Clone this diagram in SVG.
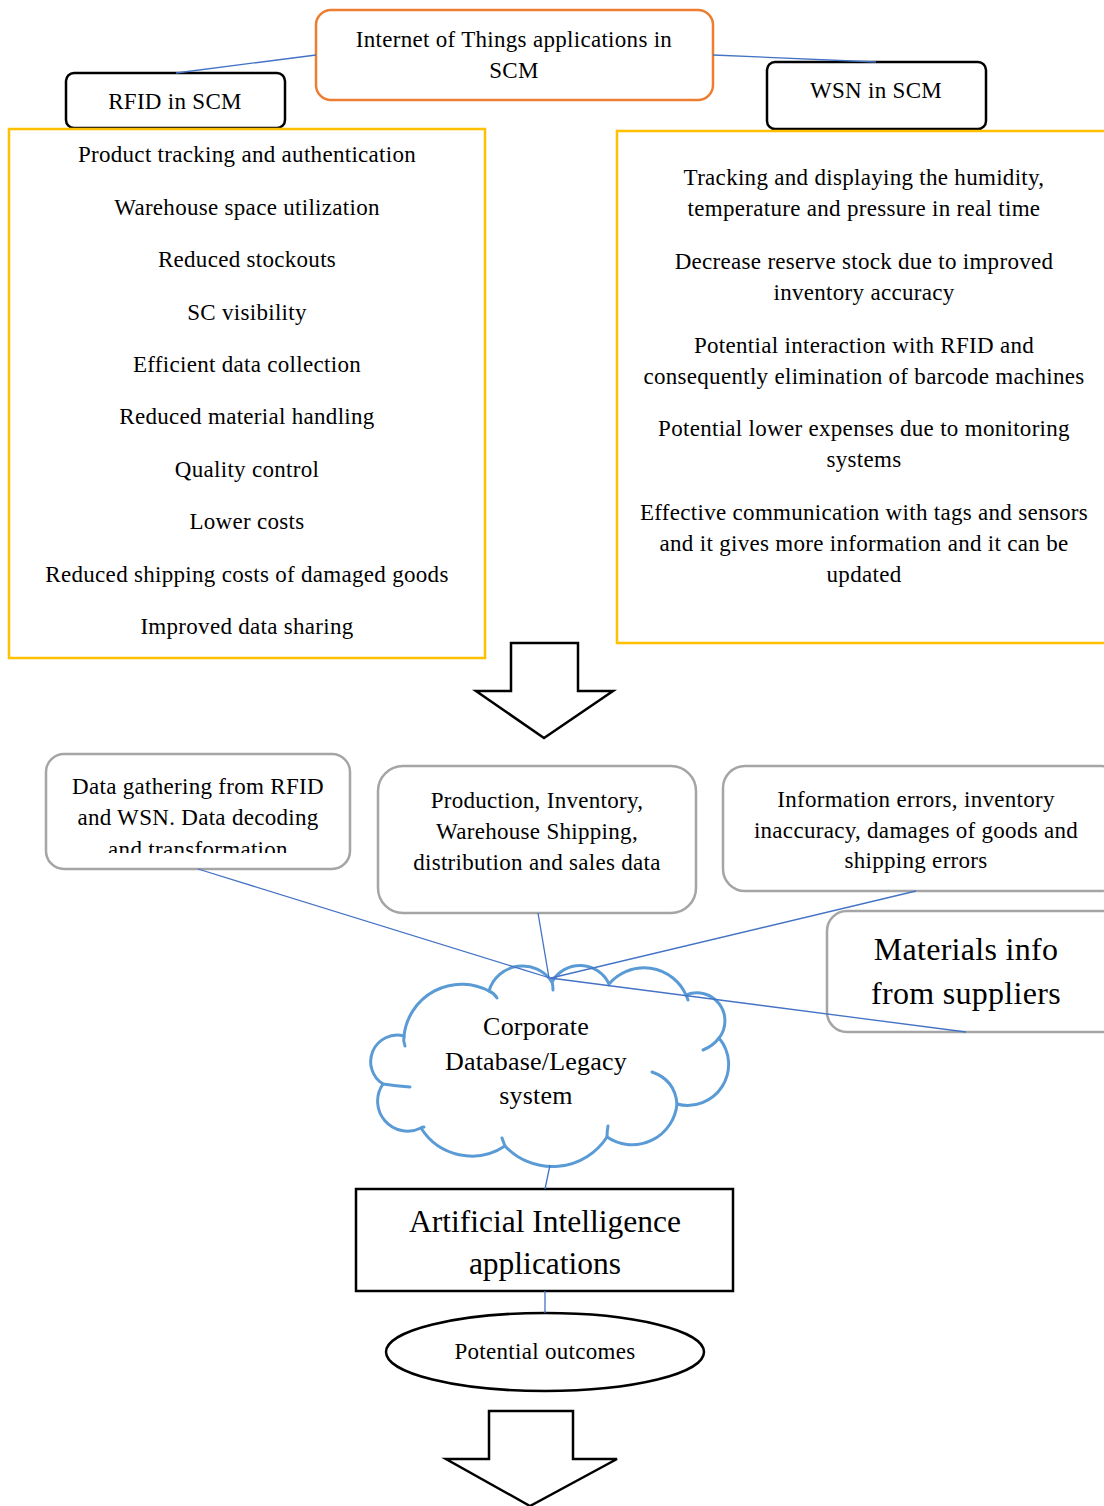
<svg xmlns="http://www.w3.org/2000/svg" width="1104" height="1506" viewBox="0 0 1104 1506">
  <style>
    text { font-family: "Liberation Serif", "Times New Roman", serif; fill: #000; text-anchor: middle; }
    .t20 { font-size: 23px; letter-spacing: 0.3px; }
    .t21 { font-size: 23px; letter-spacing: 0.3px; }
    .t24 { font-size: 26px; letter-spacing: 0.2px; }
    .t30 { font-size: 31.5px; }
    .t32 { font-size: 32px; letter-spacing: 0.3px; }
    .orange { fill: #fff; stroke: #ED7D31; stroke-width: 2.5; }
    .black { fill: #fff; stroke: #000; stroke-width: 2.5; }
    .yellow { fill: #fff; stroke: #FFC000; stroke-width: 2.5; }
    .grey { fill: #fff; stroke: #A5A5A5; stroke-width: 2.5; }
    .cloud { fill: none; stroke: #5B9BD5; stroke-width: 3; stroke-linecap: round; }
    .link { stroke: #4472C4; stroke-width: 1.3; fill: none; }
    .blockarrow { fill: #fff; stroke: #000; stroke-width: 2.5; stroke-linejoin: miter; }
  </style>
  <defs>
    <clipPath id="clip-gather">
      <rect x="46" y="754" width="304" height="99"/>
    </clipPath>
  </defs>

  <rect width="1104" height="1506" fill="#fff"/>

  <!-- top: IoT root and its two branches -->
  <g id="iot">
    <rect class="orange" x="316" y="10" width="397" height="90" rx="15"/>
    <text class="t20" x="514" y="47">Internet of Things applications in</text>
    <text class="t20" x="514" y="78">SCM</text>
  </g>
  <g id="rfid">
    <rect class="black" x="66" y="73" width="219" height="55" rx="8"/>
    <text class="t20" x="175" y="109">RFID in SCM</text>
  </g>
  <g id="wsn">
    <rect class="black" x="767" y="62" width="219" height="67" rx="8"/>
    <text class="t20" x="876" y="98">WSN in SCM</text>
  </g>

  <!-- benefit lists -->
  <g id="rfid-benefits">
    <rect class="yellow" x="9" y="129" width="476" height="529"/>
    <text class="t20" x="247" y="162">Product tracking and authentication</text>
    <text class="t20" x="247" y="215">Warehouse space utilization</text>
    <text class="t20" x="247" y="267">Reduced stockouts</text>
    <text class="t20" x="247" y="320">SC visibility</text>
    <text class="t20" x="247" y="372">Efficient data collection</text>
    <text class="t20" x="247" y="424">Reduced material handling</text>
    <text class="t20" x="247" y="477">Quality control</text>
    <text class="t20" x="247" y="529">Lower costs</text>
    <text class="t20" x="247" y="582">Reduced shipping costs of damaged goods</text>
    <text class="t20" x="247" y="634">Improved data sharing</text>
  </g>
  <g id="wsn-benefits">
    <rect class="yellow" x="617" y="131" width="500" height="512"/>
    <text class="t20" x="864" y="185">Tracking and displaying the humidity,</text>
    <text class="t20" x="864" y="216">temperature and pressure in real time</text>
    <text class="t20" x="864" y="269">Decrease reserve stock due to improved</text>
    <text class="t20" x="864" y="300">inventory accuracy</text>
    <text class="t20" x="864" y="353">Potential interaction with RFID and</text>
    <text class="t20" x="864" y="384">consequently elimination of barcode machines</text>
    <text class="t20" x="864" y="436">Potential lower expenses due to monitoring</text>
    <text class="t20" x="864" y="467">systems</text>
    <text class="t20" x="864" y="520">Effective communication with tags and sensors</text>
    <text class="t20" x="864" y="551">and it gives more information and it can be</text>
    <text class="t20" x="864" y="582">updated</text>
  </g>

  <g id="arrow-down-1">
    <polygon class="blockarrow" points="511,643 578,643 578,691 613,691 544,738 476,691 511,691"/>
  </g>

  <!-- data sources -->
  <g id="data-gathering">
    <rect class="grey" x="46" y="754" width="304" height="115" rx="18"/>
    <g clip-path="url(#clip-gather)">
      <text class="t21" x="198" y="794">Data gathering from RFID</text>
      <text class="t21" x="198" y="825">and WSN. Data decoding</text>
      <text class="t21" x="198" y="857">and transformation</text>
    </g>
  </g>
  <g id="operations-data">
    <rect class="grey" x="378" y="766" width="318" height="147" rx="25"/>
    <text class="t21" x="537" y="808">Production, Inventory,</text>
    <text class="t21" x="537" y="839">Warehouse Shipping,</text>
    <text class="t21" x="537" y="870">distribution and sales data</text>
  </g>
  <g id="errors-data">
    <rect class="grey" x="723" y="766" width="400" height="125" rx="22"/>
    <text class="t21" x="916" y="807">Information errors, inventory</text>
    <text class="t21" x="916" y="838">inaccuracy, damages of goods and</text>
    <text class="t21" x="916" y="868">shipping errors</text>
  </g>
  <g id="supplier-data">
    <rect class="grey" x="827" y="911" width="300" height="121" rx="20"/>
    <text class="t32" x="966" y="960">Materials info</text>
    <text class="t32" x="966" y="1004">from suppliers</text>
  </g>

  <!-- corporate database cloud -->
  <g id="corporate-db">
    <path class="cloud" d="M404,1036 A58,58 0 0 1 489,991 A35,35 0 0 1 552,982 A32,32 0 0 1 609,984 A46,46 0 0 1 686,995 A28,28 0 0 1 719,1038 A41,41 0 0 1 677,1104 A45,45 0 0 1 607,1137 A65,65 0 0 1 505,1146 A60,60 0 0 1 421,1128 A30,30 0 0 1 383,1084 A26.5,26.5 0 0 1 404,1036 Z"/>
    <path class="cloud" d="M404,1036 Q403,1041 405,1046"/>
    <path class="cloud" d="M489,991 Q494,993 497,998"/>
    <path class="cloud" d="M552,982 Q553,985 553,990"/>
    <path class="cloud" d="M686,995 Q687,997 688,1000"/>
    <path class="cloud" d="M719,1038 Q713,1046 703,1050"/>
    <path class="cloud" d="M677,1104 Q675,1080 652,1072"/>
    <path class="cloud" d="M607,1137 Q607,1131 608,1126"/>
    <path class="cloud" d="M505,1146 Q503,1141 502,1138"/>
    <path class="cloud" d="M421,1128 Q422,1127 424,1127"/>
    <path class="cloud" d="M383,1084 Q396,1086 410,1087"/>
    <text class="t24" x="536" y="1035">Corporate</text>
    <text class="t24" x="536" y="1070">Database/Legacy</text>
    <text class="t24" x="536" y="1104">system</text>
  </g>

  <g id="ai-applications">
    <rect class="black" x="356" y="1189" width="377" height="102"/>
    <text class="t30" x="545" y="1232">Artificial Intelligence</text>
    <text class="t30" x="545" y="1274">applications</text>
  </g>

  <g id="outcomes">
    <ellipse class="black" cx="545" cy="1352" rx="159" ry="39"/>
    <text class="t20" x="545" y="1359">Potential outcomes</text>
  </g>

  <g id="arrow-down-2">
    <polygon class="blockarrow" points="489,1411 573,1411 573,1459 617,1459 530,1506 446,1459 489,1459"/>
  </g>

  <!-- connectors -->
  <g id="connectors">
    <line class="link" x1="316" y1="55" x2="176" y2="73"/>
    <line class="link" x1="713" y1="55" x2="876" y2="62"/>
    <line class="link" x1="198" y1="869" x2="550" y2="978"/>
    <line class="link" x1="538" y1="913" x2="549" y2="978"/>
    <line class="link" x1="916" y1="891" x2="551" y2="978"/>
    <line class="link" x1="966" y1="1032" x2="550" y2="978"/>
    <line class="link" x1="550" y1="1165" x2="545" y2="1189"/>
    <line class="link" x1="545" y1="1291" x2="545" y2="1313"/>
  </g>
</svg>
